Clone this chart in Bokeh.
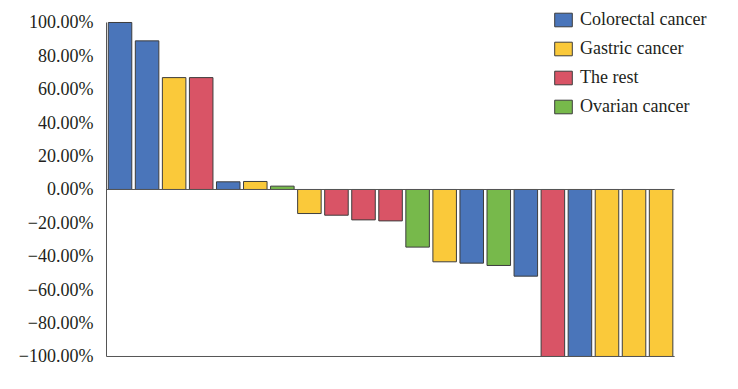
from bokeh.plotting import figure
from bokeh.models import ColumnDataSource, FixedTicker, Legend, LegendItem, Range1d
from bokeh.embed import file_html
from bokeh.resources import INLINE

patients = list(range(1, 22))
changes = [100, 89, 67, 67, 4.6, 4.8, 2, -14.4, -15.4, -18.2, -18.8, -34.5, -43.3,
           -44.1, -45.5, -51.9, -100, -100, -100, -100, -100]
groups = ["Colorectal cancer", "Colorectal cancer", "Gastric cancer", "The rest",
          "Colorectal cancer", "Gastric cancer", "Ovarian cancer", "Gastric cancer",
          "The rest", "The rest", "The rest", "Ovarian cancer", "Gastric cancer",
          "Colorectal cancer", "Ovarian cancer", "Colorectal cancer", "The rest",
          "Colorectal cancer", "Gastric cancer", "Gastric cancer", "Gastric cancer"]
group_order = ["Colorectal cancer", "Gastric cancer", "The rest", "Ovarian cancer"]
group_colors = ["#4A75BA", "#FAC93A", "#D95466", "#77B94B"]
tick_values = [-100, -80, -60, -40, -20, 0, 20, 40, 60, 80, 100]

FONT = "Liberation Serif"
AXIS_COLOR = "#555555"

x_lo, x_hi = 0.5, len(patients) + 0.5
y_lo, y_hi = -100, 100

p = figure(width=722, height=373, output_backend="svg", toolbar_location=None,
           x_range=Range1d(x_lo - 0.037, x_lo + 22.77),
           y_range=Range1d(y_lo - 1.2, y_hi + 13.17),
           min_border_left=105, min_border_right=0, min_border_top=0, min_border_bottom=15)
p.outline_line_color = None
p.grid.visible = False

items = []
for g, c in zip(group_order, group_colors):
    xs = [x for x, gg in zip(patients, groups) if gg == g]
    ys = [y for y, gg in zip(changes, groups) if gg == g]
    src = ColumnDataSource(dict(x=xs, top=ys))
    r = p.vbar(x="x", top="top", bottom=0, width=0.87, source=src,
               fill_color=c, line_color="#3d3d3d", line_width=1)
    items.append(LegendItem(label=g, renderers=[r]))

# zero line, bottom frame line and vertical axis line, limited to the data area
p.segment(x0=[x_lo, x_lo, x_lo], y0=[0, y_lo, y_lo], x1=[x_hi, x_hi, x_lo], y1=[0, y_lo, y_hi],
          line_color=AXIS_COLOR, line_width=1)

yax = p.yaxis[0]
yax.ticker = FixedTicker(ticks=tick_values)
yax.major_label_overrides = {
    v: (("\u2212" if v < 0 else "") + f"{abs(v):.2f}%") for v in tick_values
}
yax.major_tick_line_color = None
yax.minor_tick_line_color = None
yax.axis_line_color = None
yax.major_label_text_font = FONT
yax.major_label_text_font_size = "18px"
yax.major_label_text_color = "#231f20"
yax.major_label_standoff = 6

p.xaxis.visible = False

legend = Legend(items=items, location=(447, 241), padding=0, margin=0,
                glyph_width=22, glyph_height=17, label_height=17, spacing=8,
                label_standoff=6, label_text_font=FONT, label_text_font_size="18px",
                label_text_color="#231f20", border_line_alpha=0,
                background_fill_alpha=0)
p.add_layout(legend)

open("out.html", "w").write(file_html(p, INLINE))
